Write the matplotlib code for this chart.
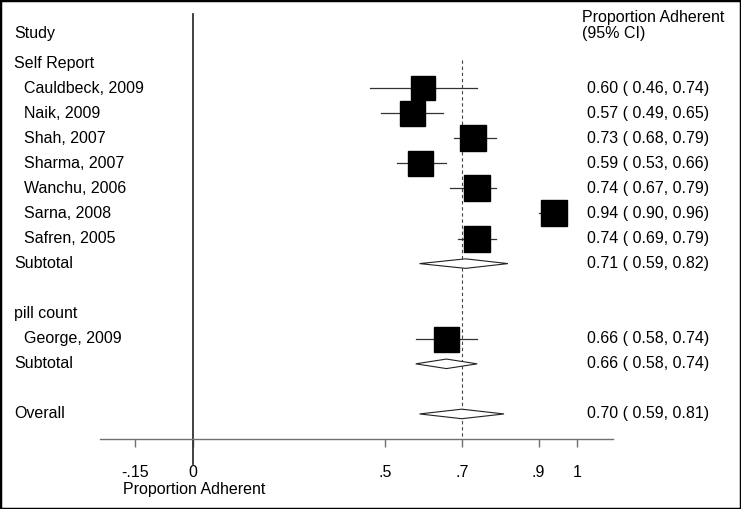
import matplotlib
matplotlib.use("Agg")
import matplotlib.pyplot as plt
from matplotlib.patches import Polygon, Rectangle

plt.rcParams["font.family"] = ["Liberation Sans", "DejaVu Sans"]
plt.rcParams["font.size"] = 11.5

# study level data
studies = ["Cauldbeck, 2009", "Naik, 2009", "Shah, 2007", "Sharma, 2007",
           "Wanchu, 2006", "Sarna, 2008", "Safren, 2005", "George, 2009"]
est = [0.60, 0.57, 0.73, 0.59, 0.74, 0.94, 0.74, 0.66]
lo = [0.46, 0.49, 0.68, 0.53, 0.67, 0.90, 0.69, 0.58]
hi = [0.74, 0.65, 0.79, 0.66, 0.79, 0.96, 0.79, 0.74]
weights = [0.92, 1.0, 1.04, 1.0, 1.02, 1.06, 1.04, 1.0]
study_rows = [2, 3, 4, 5, 6, 7, 8, 12]

# pooled estimates
pooled_labels = ["Subtotal", "Subtotal", "Overall"]
pooled_est = [0.71, 0.66, 0.70]
pooled_lo = [0.59, 0.58, 0.59]
pooled_hi = [0.82, 0.74, 0.81]
pooled_rows = [9, 13, 15]

groups = ["Self Report", "pill count"]
group_rows = [1, 11]

xticks = [-0.15, 0, 0.5, 0.7, 0.9, 1]
xtick_labels = ["-.15", "0", ".5", ".7", ".9", "1"]

fig = plt.figure(figsize=(7.41, 5.09), dpi=100)
ax = fig.add_axes([100 / 741, 70 / 509, 513 / 741, 439 / 509])
ax.set_xlim(-0.2422, 1.09375)
ax.set_ylim(16, -1.52)

for s in ["top", "left", "right"]:
    ax.spines[s].set_visible(False)
ax.spines["bottom"].set_color("#707070")
ax.spines["bottom"].set_linewidth(1.0)
ax.set_yticks([])
ax.set_xticks(xticks)
ax.set_xticklabels(xtick_labels)
ax.tick_params(axis="x", direction="out", length=6, width=1.0,
               color="#707070", pad=13, labelsize=11.5)

# null line and overall line
ax.plot([0, 0], [-0.96, 17], color="#333333", lw=1.3, clip_on=False)
ax.plot([0.70, 0.70], [0.88, 16], color="#444444", lw=0.8,
        linestyle=(0, (3, 2.5)))

# studies
for r, e, l, h, w in zip(study_rows, est, lo, hi, weights):
    ax.plot([l, h], [r, r], color="#333333", lw=0.9, zorder=2)
    ax.plot(e, r, marker="s", color="black", markersize=18 * w, zorder=3)

# pooled diamonds
for r, e, l, h in zip(pooled_rows, pooled_est, pooled_lo, pooled_hi):
    d = Polygon([[l, r], [e, r - 0.19], [h, r], [e, r + 0.19]],
                closed=True, facecolor="white", edgecolor="#222222",
                lw=0.8, zorder=3)
    ax.add_patch(d)

# left labels
ax.text(-0.466, -0.2, "Study", ha="left", va="center", clip_on=False)
for g, r in zip(groups, group_rows):
    ax.text(-0.466, r, g, ha="left", va="center", clip_on=False)
for s, r in zip(studies, study_rows):
    ax.text(-0.441, r, s, ha="left", va="center", clip_on=False)
for s, r in zip(pooled_labels, pooled_rows):
    ax.text(-0.466, r, s, ha="left", va="center", clip_on=False)

# right column
ax.text(1.013, -0.84, "Proportion Adherent", ha="left", va="center",
        clip_on=False)
ax.text(1.013, -0.2, "(95% CI)", ha="left", va="center", clip_on=False)
for r, e, l, h in zip(study_rows + pooled_rows, est + pooled_est,
                      lo + pooled_lo, hi + pooled_hi):
    ax.text(1.026, r, f"{e:.2f} ( {l:.2f}, {h:.2f})", ha="left",
            va="center", clip_on=False)

ax.text(-0.182, 18.0, "Proportion Adherent", ha="left", va="center",
        clip_on=False)

fig.patches.append(Rectangle((0, 0), 1, 1, transform=fig.transFigure,
                             fill=False, edgecolor="black", lw=2.5))

fig.savefig("out.png", dpi=100)
